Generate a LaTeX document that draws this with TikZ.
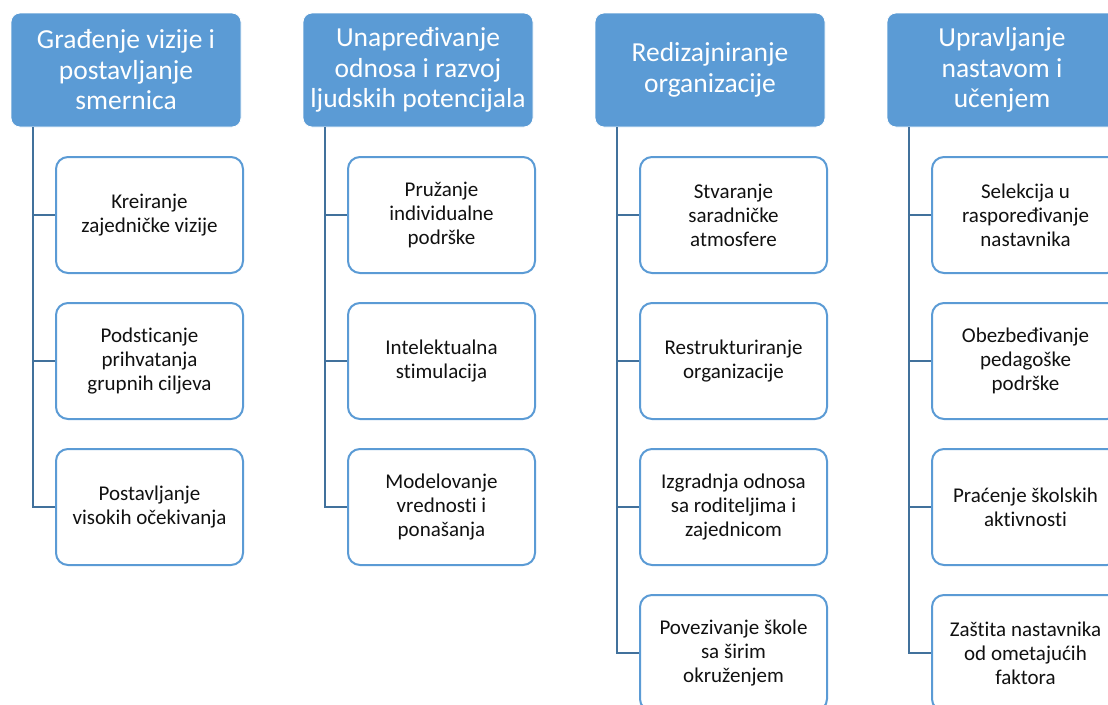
\documentclass[tikz,border=0pt]{standalone}
\usepackage{fontspec}
\setmainfont{Carlito}[Ligatures=NoCommon]
\definecolor{hdrblue}{HTML}{5B9BD5}
\definecolor{linkblue}{HTML}{41719C}
\definecolor{txtgray}{HTML}{111111}
\begin{document}
\begin{tikzpicture}[x=1pt,y=-1pt,
  header/.style={draw=white,line width=0.8pt,fill=hdrblue,rounded corners=9pt,
    minimum width=230pt,minimum height=114pt,inner sep=0pt,align=center,text=white,
    font=\fontsize{27.5}{30.5}\selectfont},
  item/.style={draw=hdrblue,line width=2pt,fill=white,rounded corners=12pt,
    minimum width=187pt,minimum height=116pt,inner sep=0pt,align=center,text=txtgray,
    font=\fontsize{21}{24}\selectfont},
  link/.style={draw=linkblue,line width=2.2pt}]
\useasboundingbox (0,0) rectangle (1108,704);
% headers
\node[header] (h1) at (126,70) {Građenje vizije i\\postavljanje\\smernica};
\node[header] (h2) at (418,70) {Unapređivanje\\odnosa i razvoj\\ljudskih potencijala};
\node[header] (h3) at (710,70) {Redizajniranje\\organizacije};
\node[header] (h4) at (1002,70) {Upravljanje\\nastavom i\\učenjem};
% column 1
\node[item] (a1) at (149.5,215) {Kreiranje\\zajedničke vizije};
\node[item] (a2) at (149.5,361) {Podsticanje\\prihvatanja\\grupnih ciljeva};
\node[item] (a3) at (149.5,507) {Postavljanje\\visokih očekivanja};
% column 2
\node[item] (b1) at (441.5,215) {Pružanje\\individualne\\podrške};
\node[item] (b2) at (441.5,361) {Intelektualna\\stimulacija};
\node[item] (b3) at (441.5,507) {Modelovanje\\vrednosti i\\ponašanja};
% column 3
\node[item] (c1) at (733.5,215) {Stvaranje\\saradničke\\atmosfere};
\node[item] (c2) at (733.5,361) {Restrukturiranje\\organizacije};
\node[item] (c3) at (733.5,507) {Izgradnja odnosa\\sa roditeljima i\\zajednicom};
\node[item] (c4) at (733.5,653) {Povezivanje škole\\sa širim\\okruženjem};
% column 4
\node[item] (d1) at (1025.5,215) {Selekcija u\\raspoređivanje\\nastavnika};
\node[item] (d2) at (1025.5,361) {Obezbeđivanje\\pedagoške\\podrške};
\node[item] (d3) at (1025.5,507) {Praćenje školskih\\aktivnosti};
\node[item] (d4) at (1025.5,653) {Zaštita nastavnika\\od ometajućih\\faktora};
% connector anchor coordinates
\coordinate (t1) at ([xshift=22pt]h1.south west);
\coordinate (t2) at ([xshift=22pt]h2.south west);
\coordinate (t3) at ([xshift=22pt]h3.south west);
\coordinate (t4) at ([xshift=22pt]h4.south west);
% connectors
\foreach \c in {a1,a2,a3} \draw[link] (t1) |- (\c.west);
\foreach \c in {b1,b2,b3} \draw[link] (t2) |- (\c.west);
\foreach \c in {c1,c2,c3,c4} \draw[link] (t3) |- (\c.west);
\foreach \c in {d1,d2,d3,d4} \draw[link] (t4) |- (\c.west);
\end{tikzpicture}
\end{document}
